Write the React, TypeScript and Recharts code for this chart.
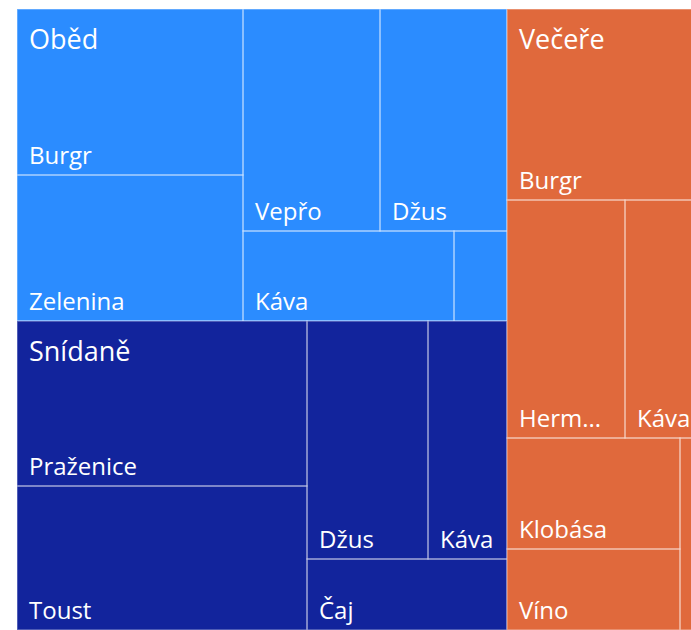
import React from 'react';
import { Treemap } from 'recharts';

const meals = ['Oběd', 'Snídaně', 'Večeře'];

const obedItems = ['Burgr', 'Zelenina', 'Vepřo', 'Džus', 'Káva', 'Polévka'];
const obedValues = [3752, 3300, 3041, 2819, 1899, 477];

const snidaneItems = ['Praženice', 'Toust', 'Džus', 'Káva', 'Čaj'];
const snidaneValues = [4785, 4176, 2880, 1880, 1420];

const vecereItems = ['Burgr', 'Hermelín', 'Káva', 'Klobása', 'Víno', 'Zelenina'];
const vecereValues = [3820, 2808, 1952, 1920, 1401, 518];

const mealColors = ['#2B8CFF', '#12249C', '#E0693C'];

const FONT = "'Segoe UI', 'Open Sans', sans-serif";
const LEAF_FONT = 24;

const buildGroup = (name: string, items: string[], values: number[]) => ({
  name,
  children: items.map((item, i) => ({ name: item, size: values[i] })),
});

const treeData = [
  buildGroup(meals[0], obedItems, obedValues),
  buildGroup(meals[1], snidaneItems, snidaneValues),
  buildGroup(meals[2], vecereItems, vecereValues),
];

let measureCtx: CanvasRenderingContext2D | null = null;
const textWidth = (text: string, size: number) => {
  if (!measureCtx) measureCtx = document.createElement('canvas').getContext('2d');
  if (!measureCtx) return text.length * size * 0.55;
  measureCtx.font = `${size}px ${FONT}`;
  return measureCtx.measureText(text).width;
};

// shorten a label with "..." the way Power BI does when the tile is too narrow
const fitLabel = (text: string, size: number, width: number) => {
  if (textWidth(text, size) <= width - 22) return text;
  for (let i = text.length - 1; i > 0; i--) {
    const cut = text.slice(0, i) + '...';
    if (textWidth(cut, size) <= width - 30) return cut;
  }
  return '';
};

const renderCell = (props: any) => {
  const { depth, x, y, width, height, name } = props;
  if (depth === 1) {
    const colorIndex = Math.max(0, meals.indexOf(name));
    return (
      <g>
        <rect x={x} y={y} width={width} height={height} fill={mealColors[colorIndex]} />
        <text x={x + 12} y={y + 40} fill="#fff" fontSize={27} fontFamily={FONT}>
          {name}
        </text>
      </g>
    );
  }
  if (depth === 2) {
    const label = width > 30 && height > 40 ? fitLabel(name, LEAF_FONT, width) : '';
    return (
      <g>
        <rect
          x={x}
          y={y}
          width={width}
          height={height}
          fill="none"
          stroke="#fff"
          strokeOpacity={0.35}
          strokeWidth={1.5}
        />
        {label && (
          <text x={x + 12} y={y + height - 11} fill="#fff" fontSize={LEAF_FONT} fontFamily={FONT}>
            {label}
          </text>
        )}
      </g>
    );
  }
  return <g />;
};

export default function App() {
  return (
    <div
      style={{
        position: 'fixed',
        left: 0,
        top: 0,
        width: 691,
        height: 630,
        overflow: 'hidden',
        background: '#fff',
      }}
    >
      <div style={{ position: 'absolute', left: 17, top: 9 }}>
        <Treemap
          width={690}
          height={621}
          data={treeData}
          dataKey="size"
          nameKey="name"
          isAnimationActive={false}
          content={renderCell}
        />
      </div>
    </div>
  );
}
